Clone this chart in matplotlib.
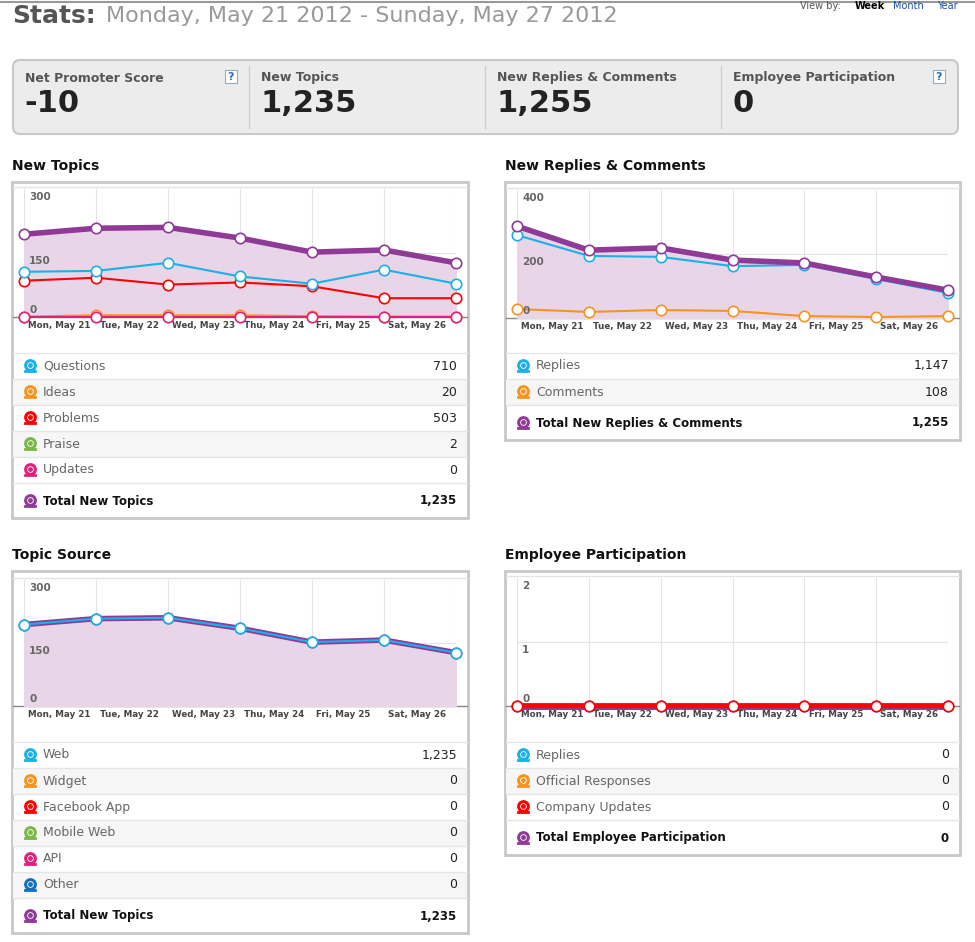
import matplotlib
matplotlib.use("Agg")
import matplotlib.pyplot as plt
from matplotlib.patches import Rectangle, FancyBboxPatch

days = ["Mon, May 21", "Tue, May 22", "Wed, May 23", "Thu, May 24", "Fri, May 25", "Sat, May 26"]
n_points = 7

topics_total = [194, 208, 210, 185, 152, 157, 127]
topics_questions = [106, 108, 127, 95, 78, 111, 78]
topics_problems = [85, 92, 76, 81, 72, 44, 44]
topics_ideas = [1, 4, 4, 4, 2, 1, 1]
topics_updates = [0, 0, 0, 0, 0, 0, 0]

replies_total = [287, 212, 219, 181, 172, 128, 87]
replies_replies = [259, 194, 191, 162, 166, 122, 78]
replies_comments = [28, 19, 25, 22, 6, 3, 6]

source_web = topics_total
emp_values = [0, 0, 0, 0, 0, 0, 0]

kpi_labels = ["Net Promoter Score", "New Topics", "New Replies & Comments", "Employee Participation"]
kpi_values = ["-10", "1,235", "1,255", "0"]

topics_rows = [("Questions", "710"), ("Ideas", "20"), ("Problems", "503"), ("Praise", "2"), ("Updates", "0")]
topics_total_row = ("Total New Topics", "1,235")
replies_rows = [("Replies", "1,147"), ("Comments", "108")]
replies_total_row = ("Total New Replies & Comments", "1,255")
source_rows = [("Web", "1,235"), ("Widget", "0"), ("Facebook App", "0"), ("Mobile Web", "0"), ("API", "0"), ("Other", "0")]
source_total_row = ("Total New Topics", "1,235")
emp_rows = [("Replies", "0"), ("Official Responses", "0"), ("Company Updates", "0")]
emp_total_row = ("Total Employee Participation", "0")

PURPLE = "#8e3a96"; BLUE = "#1ab0e8"; RED = "#ff0000"; ORANGE = "#f7941d"
GREEN = "#7ab648"; PINK = "#e0207a"; DBLUE = "#1170c0"; FILL = "#e8d6e8"

W, H = 975, 942
fig = plt.figure(figsize=(W/100, H/100), dpi=100)
bg = fig.add_axes([0, 0, 1, 1])
bg.set_xlim(0, W); bg.set_ylim(H, 0); bg.axis("off")

def pax(x, y, w, h):
    return fig.add_axes([x/W, 1-(y+h)/H, w/W, h/H])

bg.plot([0, W], [2, 2], color="#999999", lw=1.5)
bg.text(12, 16, "Stats:", fontsize=18, fontweight="bold", color="#555555", va="center")
bg.text(106, 16, "Monday, May 21 2012 - Sunday, May 27 2012", fontsize=16, color="#999999", va="center")
bg.text(800, 6, "View by:", fontsize=7, color="#555", va="center")
bg.text(855, 6, "Week", fontsize=7, fontweight="bold", color="#000", va="center")
bg.text(893, 6, "Month", fontsize=7, color="#1a4fa0", va="center")
bg.text(937, 6, "Year", fontsize=7, color="#1a4fa0", va="center")

bg.add_patch(FancyBboxPatch((13, 60), 945, 74, boxstyle="round,pad=0,rounding_size=7",
                            fc="#ececec", ec="#c8c8c8", lw=1.5))
kx = [25, 261, 497, 733]
for i, (lab, val) in enumerate(zip(kpi_labels, kpi_values)):
    bg.text(kx[i], 78, lab, fontsize=9, fontweight="bold", color="#555", va="center")
    bg.text(kx[i]-1, 104, val, fontsize=22, fontweight="bold", color="#222", va="center")
    if i > 0:
        bg.plot([kx[i]-12, kx[i]-12], [66, 128], color="#cfcfcf", lw=1)
for qx in [231, 939]:
    bg.add_patch(Rectangle((qx-6, 70), 12, 13, fc="white", ec="#9ab", lw=0.8))
    bg.text(qx, 76.5, "?", fontsize=8, color="#2a6fc0", ha="center", va="center", fontweight="bold")

def icon(x, y, col):
    bg.plot([x], [y], "o", ms=7, mfc="white", mec=col, mew=2.2, zorder=2)
    bg.plot([x], [y], "o", ms=2.5, color=col, zorder=3)
    bg.plot([x-5, x+5], [y+6, y+6], color=col, lw=2, zorder=2)

def panel(x0, x1, box_top, chart_bottom, rows, total_row, icon_colors):
    nrows = len(rows)
    row_top = chart_bottom + 8
    rh = 26
    box_bottom = row_top + nrows*rh + 35
    bg.add_patch(Rectangle((x0, box_top), x1-x0, box_bottom-box_top, fc="white", ec="#c8c8c8", lw=2, zorder=0))
    for i, (lab, val) in enumerate(rows):
        yt = row_top + i*rh
        if i % 2 == 1:
            bg.add_patch(Rectangle((x0+1, yt), x1-x0-2, rh, fc="#f6f6f6", ec="none", zorder=0.5))
        bg.plot([x0+1, x1-1], [yt, yt], color="#e6e6e6", lw=1, zorder=0.6)
        yc = yt + rh/2
        icon(x0+18, yc - 1, icon_colors[i])
        bg.text(x0+31, yc, lab, fontsize=9, color="#666", va="center")
        bg.text(x1-11, yc, val, fontsize=9, color="#222", va="center", ha="right")
    yt = row_top + nrows*rh
    bg.plot([x0+1, x1-1], [yt, yt], color="#e6e6e6", lw=1, zorder=0.6)
    yc = yt + 18
    icon(x0+18, yc - 1, PURPLE)
    bg.text(x0+31, yc, total_row[0], fontsize=8.5, fontweight="bold", color="#111", va="center")
    bg.text(x1-11, yc, total_row[1], fontsize=8.5, fontweight="bold", color="#111", va="center", ha="right")

def chart(x0, x1, top, zero, ymax, yticks, series, fill=None):
    xa, xb = x0+12, x1-12
    ax = pax(xa, top, xb-xa, zero-top)
    ax.set_xlim(0, n_points-1); ax.set_ylim(0, ymax)
    for s in ax.spines.values(): s.set_visible(False)
    ax.set_xticks([]); ax.set_yticks([])
    ax.patch.set_alpha(0)
    for i in range(n_points):
        ax.axvline(i, color="#e4e4e4", lw=0.8, zorder=0)
    for yv in yticks[1:-1]:
        ax.axhline(yv, color="#e4e4e4", lw=0.8, zorder=0)
    for yv in yticks:
        if yv == 0:
            ax.text(0.07, ymax*0.015, str(yv), fontsize=7.5, fontweight="bold", color="#666", va="bottom", zorder=7)
        else:
            ax.text(0.07, yv - ymax*0.02, str(yv), fontsize=7.5, fontweight="bold", color="#666", va="top", zorder=7)
    for i, d in enumerate(days):
        ax.text(i+0.06, -ymax*0.035, d, fontsize=6.3, fontweight="bold", color="#444", va="top", ha="left", clip_on=False)
    xs = list(range(n_points))
    if fill is not None:
        ax.fill_between(xs, fill, 0, color=FILL, zorder=1)
    for vals, col, lw, z in series:
        ax.plot(xs, vals, color=col, lw=lw, zorder=z, clip_on=False,
                marker="o", ms=7.5, mfc="white", mec=col, mew=1.2)
    bg.plot([x0+1, x1-1], [zero, zero], color="#888", lw=1, zorder=5)
    bg.plot([x0+1, x1-1], [top-2, top-2], color="#e4e4e4", lw=1, zorder=0.7)
    return ax

for (tx, ty, t) in [(12, 166, "New Topics"), (505, 166, "New Replies & Comments"),
                    (12, 555, "Topic Source"), (505, 555, "Employee Participation")]:
    bg.text(tx, ty, t, fontsize=10, fontweight="bold", color="#111", va="center")

panel(12, 468, 182, 345, topics_rows, topics_total_row, [BLUE, ORANGE, RED, GREEN, PINK])
panel(505, 960, 182, 345, replies_rows, replies_total_row, [BLUE, ORANGE])
panel(12, 468, 571, 734, source_rows, source_total_row, [BLUE, ORANGE, RED, GREEN, PINK, DBLUE])
panel(505, 960, 571, 734, emp_rows, emp_total_row, [BLUE, ORANGE, RED])

chart(12, 468, 189, 317, 300, [0, 150, 300],
      [(topics_ideas, ORANGE, 1.5, 3), (topics_updates, PINK, 1.5, 3.5), (topics_problems, RED, 1.5, 4),
       (topics_questions, BLUE, 1.5, 5), (topics_total, PURPLE, 4, 6)], fill=topics_total)
chart(505, 960, 190, 318, 400, [0, 200, 400],
      [(replies_comments, ORANGE, 1.5, 3), (replies_replies, BLUE, 1.5, 5), (replies_total, PURPLE, 4, 6)],
      fill=replies_total)
chart(12, 468, 580, 706, 300, [0, 150, 300],
      [(source_web, PURPLE, 4, 5), (source_web, BLUE, 1.5, 6)], fill=source_web)
chart(505, 960, 578, 706, 2, [0, 1, 2],
      [(emp_values, PURPLE, 5, 4), (emp_values, RED, 3, 5)])

fig.savefig("out.png", dpi=100)
